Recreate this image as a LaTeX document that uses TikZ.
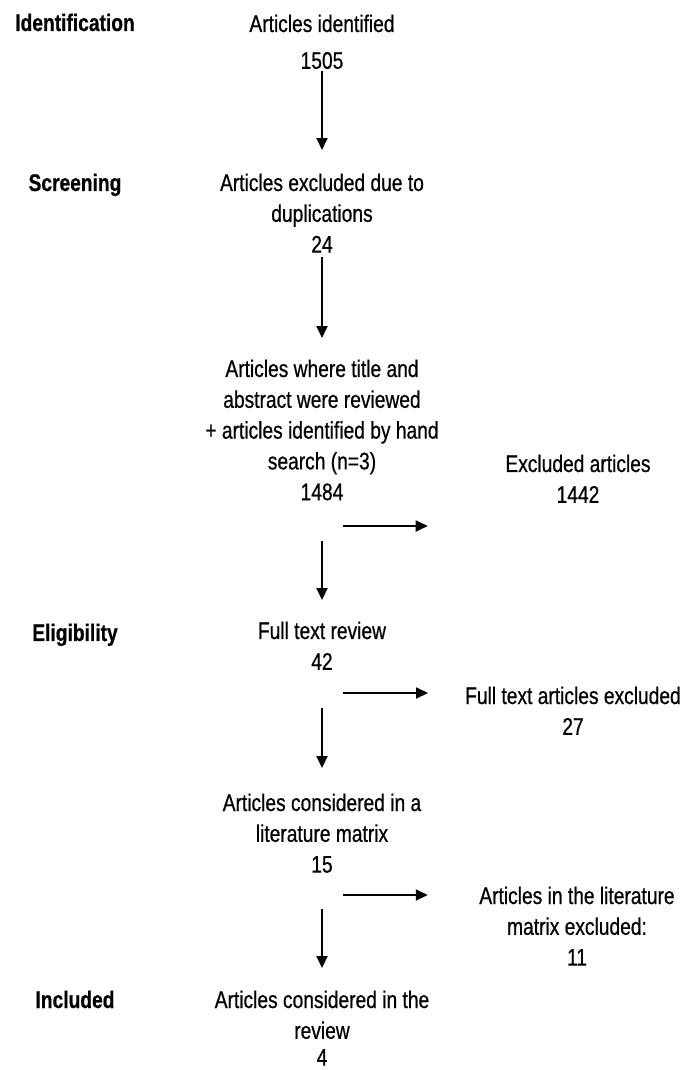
\documentclass[tikz,border=0pt]{standalone}
\usepackage{fontspec}
\newfontfamily\flowfont[FakeStretch=0.8, FakeBold=0.6]{Liberation Sans}
\newfontfamily\flowfontbf[FakeStretch=0.8, FakeBold=0.6]{Liberation Sans Bold}
\usepackage{tikz}
\usetikzlibrary{positioning, arrows.meta}
\tikzset{
	stagenode/.style={
			anchor=north,
			align=center,
			inner sep=0pt,
			font=\flowfont\fontsize{24}{30.8}\selectfont
		},
	phasenode/.style={
			stagenode,
			font=\flowfontbf\fontsize{24}{30.8}\selectfont
		},
	flowarrow/.style={
			line width=1.8pt,
			-{Triangle[length=12pt,width=11pt]}
		}
}
\begin{document}
\begin{tikzpicture}[x=1pt, y=-1pt]
\useasboundingbox (0,0) rectangle (691,1071);
\node[phasenode] (pid) at (75,13.4) {Identification};
\node[phasenode] (pscr) at (75,173.4) {Screening};
\node[phasenode] (pelg) at (75,623.4) {Eligibility};
\node[phasenode] (pinc) at (75,990.4) {Included};

\node[stagenode] (ident) at (322,14.4) {Articles identified\\[6pt]1505};
\node[stagenode] (dupl) at (322,173.4) {Articles excluded due to\\duplications\\24};
\node[stagenode] (revw) at (322,359.4) {Articles where title and\\abstract were reviewed\\+ articles identified by hand\\search (n=3)\\1484};
\node[stagenode] (excl) at (578,454.4) {Excluded articles\\1442};
\node[stagenode] (full) at (322,621.4) {Full text review\\42};
\node[stagenode] (fexcl) at (573,686.4) {Full text articles excluded\\27};
\node[stagenode] (matrix) at (322,793.4) {Articles considered in a\\literature matrix\\15};
\node[stagenode] (mexcl) at (577,886.4) {Articles in the literature\\matrix excluded:\\11};
\node[stagenode] (incl) at (322,990.4) {Articles considered in the\\review\\[-4pt]4};

\coordinate (fork1) at (343,526);
\coordinate (fork2) at (343,693);
\coordinate (fork3) at (343,895);

\draw[flowarrow, shorten <=1.5pt, shorten >=23.4pt] (ident) -- (dupl);
\draw[flowarrow, shorten <=4.5pt, shorten >=21.4pt] (dupl) -- (revw);
\draw[flowarrow, shorten <=40pt, shorten >=21.4pt] (revw) -- (full);
\draw[flowarrow, shorten <=38pt, shorten >=25.4pt] (full) -- (matrix);
\draw[flowarrow, shorten <=35.5pt, shorten >=22.4pt] (matrix) -- (incl);

\draw[flowarrow, shorten >=77.5pt] (fork1) -- (fork1 -| excl.west);
\draw[flowarrow, shorten >=37pt] (fork2) -- (fork2 -| fexcl.west);
\draw[flowarrow, shorten >=51.4pt] (fork3) -- (fork3 -| mexcl.west);
\end{tikzpicture}
\end{document}
